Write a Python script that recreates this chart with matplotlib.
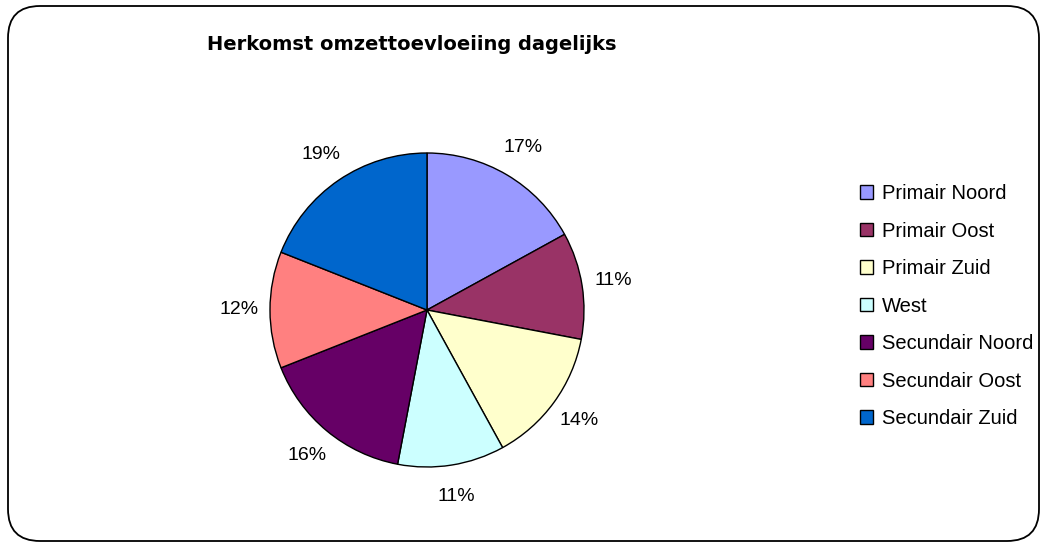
#!/usr/bin/env python3

import matplotlib
matplotlib.use("Agg")
import matplotlib.pyplot as plt
from matplotlib.patches import FancyBboxPatch

labels = ["Primair Noord", "Primair Oost", "Primair Zuid", "West",
          "Secundair Noord", "Secundair Oost", "Secundair Zuid"]
shares = [17, 11, 14, 11, 16, 12, 19]
colors = ["#9999FF", "#993366", "#FFFFCC", "#CCFFFF",
          "#660066", "#FF8080", "#0066CC"]
title = "Herkomst omzettoevloeiing dagelijks"


def main():
    W, H = 1046, 546
    fig = plt.figure(figsize=(W / 100, H / 100), dpi=100)
    plt.rcParams["font.family"] = ["Liberation Sans", "DejaVu Sans"]

    # background frame with rounded corners, in pixel units
    bg = fig.add_axes([0, 0, 1, 1])
    bg.set_xlim(0, W)
    bg.set_ylim(H, 0)
    bg.axis("off")
    frame = FancyBboxPatch((8, 6), 1031, 535,
                           boxstyle="round,pad=0,rounding_size=32",
                           facecolor="white", edgecolor="black", linewidth=1.3)
    bg.add_patch(frame)
    bg.text(412, 45, title, ha="center", va="center", fontsize=14,
            fontweight="bold", family="DejaVu Sans")

    cx, cy, r = 427, 310, 157
    ax = fig.add_axes([(cx - r) / W, (H - cy - r) / H, 2 * r / W, 2 * r / H])
    wedges, _, autotexts = ax.pie(
        shares, colors=colors, startangle=90, counterclock=False,
        autopct="%1.0f%%", pctdistance=1.2,
        wedgeprops=dict(edgecolor="black", linewidth=1),
        textprops=dict(fontsize=14))
    ax.set_xlim(-1, 1)
    ax.set_ylim(-1, 1)
    ax.set_aspect("equal")

    fig.legend(wedges, labels, loc="upper left",
               bbox_to_anchor=(850 / W, 1 - 174 / H), frameon=False,
               fontsize=14.5, handlelength=0.66, handleheight=0.66,
               handletextpad=0.42, labelspacing=0.92, borderpad=0)

    fig.savefig("out.png", dpi=100)


if __name__ == "__main__":
    main()
